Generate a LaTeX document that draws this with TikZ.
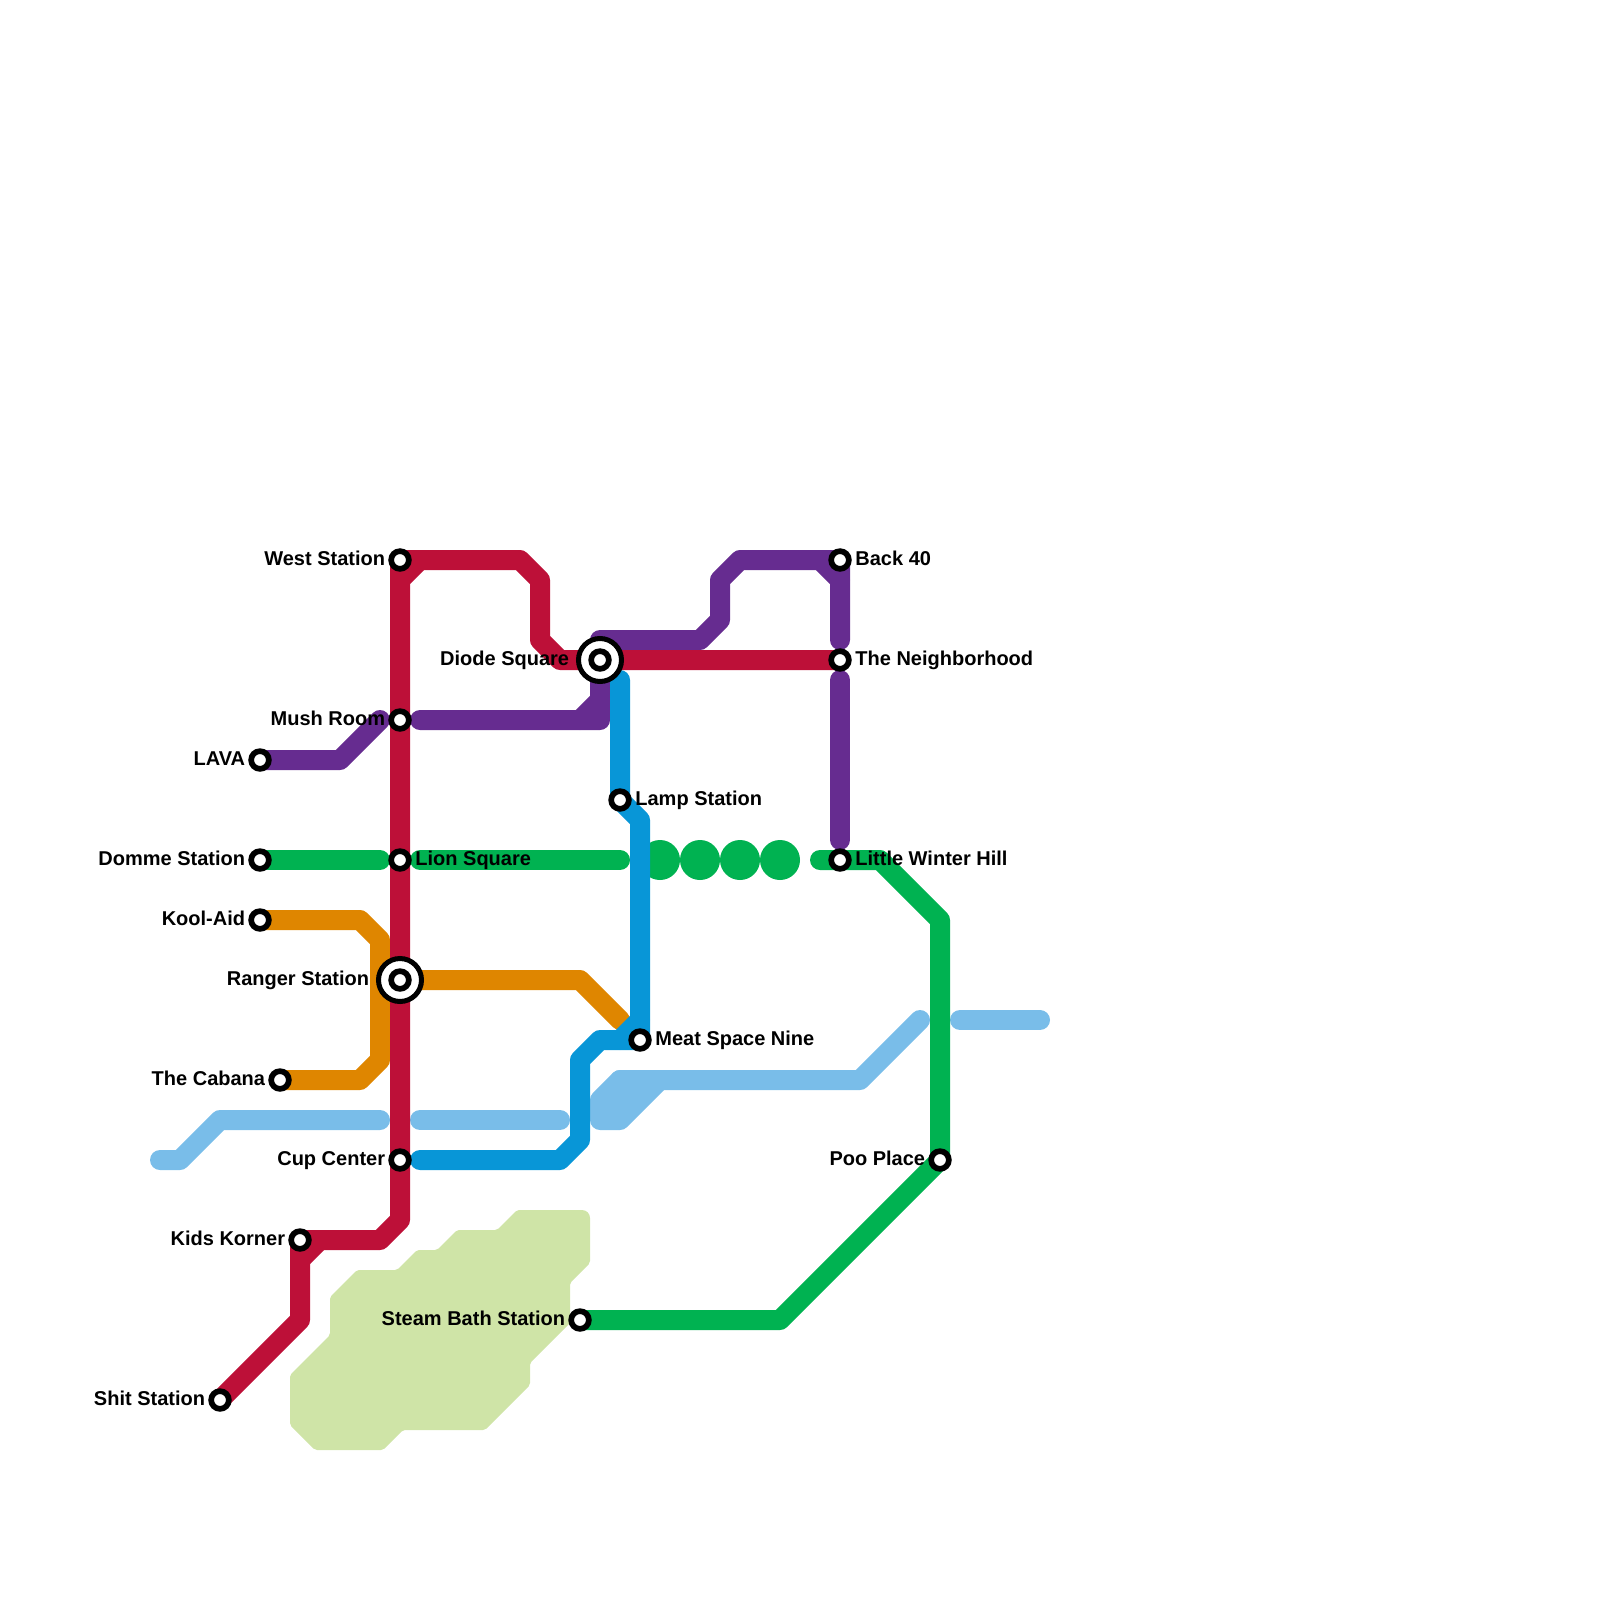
\documentclass[tikz,border=0pt]{standalone}
\usepackage{fontspec}
\setmainfont{Liberation Sans}
\definecolor{mred}{HTML}{BD1038}
\definecolor{mpurple}{HTML}{662C90}
\definecolor{mgreen}{HTML}{00B251}
\definecolor{morange}{HTML}{DF8600}
\definecolor{mblue}{HTML}{0896D7}
\definecolor{mlight}{HTML}{79BDE9}
\definecolor{mlime}{HTML}{CFE4A7}
\pgfdeclarelayer{bg}
\pgfsetlayers{bg,main}
\tikzset{
  railline/.style={line width=10pt,line cap=round,line join=round},
  station/.style={circle,draw=black,line width=2.85pt,fill=white,minimum size=8.85pt,inner sep=0pt},
  hub/.style={circle,draw=black,line width=2.5pt,fill=white,minimum size=21.5pt,inner sep=0pt},
  lab/.style={font=\fontsize{10}{12}\selectfont\bfseries,inner sep=0pt,text=black},
  labl/.style={lab,anchor=base east},
  labr/.style={lab,anchor=base west},
  blob/.style={circle,fill=mgreen,minimum size=20pt,inner sep=0pt}
}
\begin{document}
\begin{tikzpicture}[x=0.5pt,y=-0.5pt]
\useasboundingbox (0,0) rectangle (1600,1600);
% hubs below their inner stations
\node[hub] (diodeO) at (600,660) {};
\node[hub] (rangerO) at (400,980) {};
% stations
\node[station] (west) at (400,560) {};
\node[station] (mush) at (400,720) {};
\node[station] (lion) at (400,860) {};
\node[station] (ranger) at (400,980) {};
\node[station] (cup) at (400,1160) {};
\node[station] (kids) at (300,1240) {};
\node[station] (shit) at (220,1400) {};
\node[station] (lava) at (260,760) {};
\node[station] (domme) at (260,860) {};
\node[station] (kool) at (260,920) {};
\node[station] (cabana) at (280,1080) {};
\node[station] (diode) at (600,660) {};
\node[station] (back) at (840,560) {};
\node[station] (neigh) at (840,660) {};
\node[station] (lamp) at (620,800) {};
\node[station] (winter) at (840,860) {};
\node[station] (meat) at (640,1040) {};
\node[station] (poo) at (940,1160) {};
\node[station] (steam) at (580,1320) {};
% labels
\node[labl] (tWest) at (385.5,565) {West Station};
\node[labl] (tMush) at (385.5,725) {Mush Room};
\node[labr] (tLion) at (415,865) {Lion Square};
\node[labl] (tRanger) at (369.5,985) {Ranger Station};
\node[labl] (tCup) at (385.5,1165) {Cup Center};
\node[labl] (tKids) at (285.5,1245) {Kids Korner};
\node[labl] (tShit) at (205.5,1405) {Shit Station};
\node[labl] (tLava) at (245.5,765) {LAVA};
\node[labl] (tDomme) at (245.5,865) {Domme Station};
\node[labl] (tKool) at (245.5,925) {Kool-Aid};
\node[labl] (tCabana) at (265.5,1085) {The Cabana};
\node[labl] (tDiode) at (569.5,665) {Diode Square};
\node[labr] (tBack) at (855,565) {Back 40};
\node[labr] (tNeigh) at (855,665) {The Neighborhood};
\node[labr] (tLamp) at (635,805) {Lamp Station};
\node[labr] (tWinter) at (855,865) {Little Winter Hill};
\node[labr] (tMeat) at (655,1045) {Meat Space Nine};
\node[labl] (tPoo) at (925.5,1165) {Poo Place};
\node[labl] (tSteam) at (565.5,1325) {Steam Bath Station};
% free line ends
\coordinate (purpleA) at (380,720);
\coordinate (purpleB) at (420,720);
\coordinate (purpleC) at (840,640);
\coordinate (purpleD) at (840,680);
\coordinate (purpleE) at (840,840);
\coordinate (greenA) at (380,860);
\coordinate (greenB) at (420,860);
\coordinate (greenC) at (620,860);
\coordinate (greenD) at (820,860);
\coordinate (lightA) at (160,1160);
\coordinate (lightB) at (380,1120);
\coordinate (lightC) at (420,1120);
\coordinate (lightD) at (560,1120);
\coordinate (lightE) at (920,1020);
\coordinate (lightF) at (960,1020);
\coordinate (lightG) at (1040,1020);
\coordinate (orangeEnd) at (620,1020);
\coordinate (blueA) at (420,1160);
\coordinate (blueB) at (620,680);
\begin{pgfonlayer}{bg}
% lime area
\fill[mlime,rounded corners=1pt] (517,1210) [rounded corners=4pt]--(590,1210) [rounded corners=1pt]--(590,1263)--(570,1283)--(570,1323)--(530,1363)--(530,1385)--(485,1430)--(403,1430)--(383,1450)--(315,1450)--(290,1425)--(290,1375)--(330,1335)--(330,1297)--(357,1270)--(397,1270)--(417,1250)--(437,1250)--(457,1230)--(497,1230)--cycle;
% light blue line
\draw[railline,mlight] (lightA)--(180,1160)--(220,1120)--(lightB);
\draw[railline,mlight] (lightC)--(lightD);
\draw[railline,mlight,fill=mlight] (600,1100)--(620,1080)--(660,1080)--(620,1120)--(600,1120)--cycle;
\draw[railline,mlight] (620,1080)--(860,1080)--(lightE);
\draw[railline,mlight] (lightF)--(lightG);
% green line
\node[blob] (g1) at (660,860) {};
\node[blob] (g2) at (700,860) {};
\node[blob] (g3) at (740,860) {};
\node[blob] (g4) at (780,860) {};
\draw[railline,mgreen] (domme.center)--(greenA);
\draw[railline,mgreen] (greenB)--(greenC);
\draw[railline,mgreen] (greenD)--(880,860)--(940,920)--(poo.center)--(780,1320)--(steam.center);
% orange line
\draw[railline,morange] (kool.center)--(360,920)--(380,940)--(380,1060)--(360,1080)--(cabana.center);
\draw[railline,morange] (ranger.center)--(580,980)--(orangeEnd);
% purple line
\draw[railline,mpurple] (lava.center)--(340,760)--(purpleA);
\draw[railline,mpurple] (purpleB)--(600,720)--(600,640)--(700,640)--(720,620)--(720,580)--(740,560)--(back.center)--(purpleC);
\draw[railline,mpurple] (580,720)--(600,700);
\draw[railline,mpurple] (820,560)--(840,580);
\draw[railline,mpurple] (purpleD)--(purpleE);
% red line
\draw[railline,mred] (west.center)--(520,560)--(540,580)--(540,640)--(560,660)--(neigh.center);
\draw[railline,mred] (420,560)--(400,580)--(400,1220)--(380,1240)--(kids.center)--(300,1320)--(shit.center);
\draw[railline,mred] (west.center)--(400,580);
\draw[railline,mred] (320,1240)--(300,1260);
% blue line
\draw[railline,mblue] (blueA)--(560,1160)--(580,1140)--(580,1060)--(600,1040)--(meat.center)--(640,820)--(lamp.center)--(blueB);
\draw[railline,mblue] (620,1040)--(640,1020);
\end{pgfonlayer}
\end{tikzpicture}
\end{document}
